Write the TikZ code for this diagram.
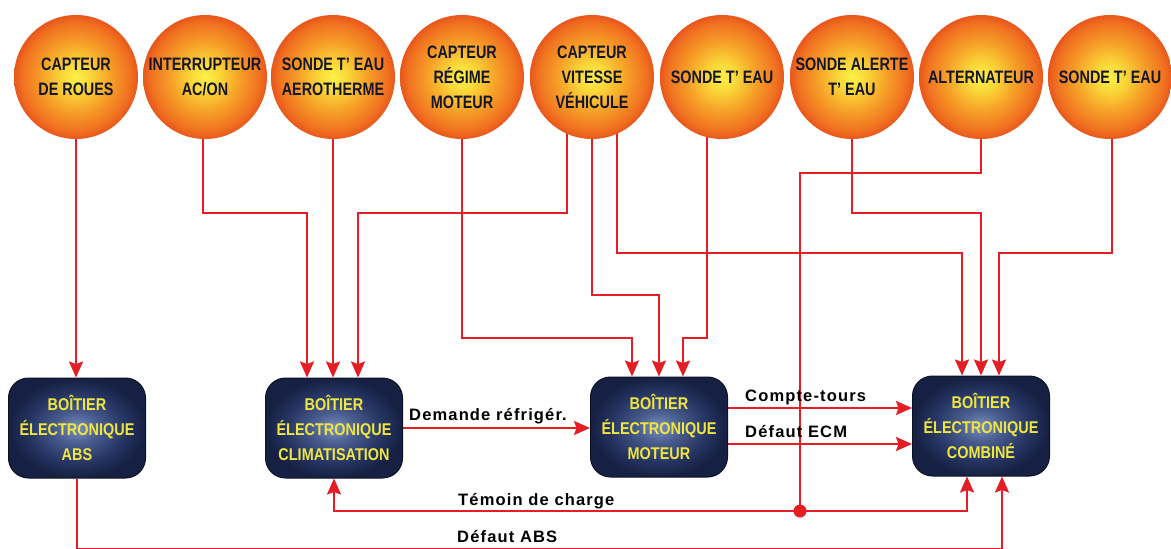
\documentclass[tikz,border=0pt]{standalone}
\usepackage{fontspec}
\setmainfont{Liberation Sans}
\newfontfamily\ballfont[FakeStretch=0.8]{Liberation Sans}
\newfontfamily\boxfont[FakeStretch=0.85]{Liberation Sans}
\newfontfamily\labfont[LetterSpace=7]{Liberation Sans}
\usetikzlibrary{arrows.meta,backgrounds,calc}

\definecolor{ballA}{RGB}{252,242,72}
\definecolor{ballB}{RGB}{250,214,56}
\definecolor{ballC}{RGB}{246,160,40}
\definecolor{ballD}{RGB}{240,112,32}
\definecolor{ballE}{RGB}{232,86,28}
\definecolor{boxA}{RGB}{122,142,192}
\definecolor{boxB}{RGB}{72,92,142}
\definecolor{boxC}{RGB}{36,51,96}
\definecolor{boxD}{RGB}{22,32,66}
\definecolor{boxedge}{RGB}{12,18,38}
\definecolor{boxtext}{RGB}{240,230,64}
\definecolor{balltext}{RGB}{22,22,42}
\definecolor{wire}{RGB}{228,30,36}

\pgfdeclareradialshading{ball}{\pgfpoint{0bp}{0bp}}{%
  color(0bp)=(ballA); color(6bp)=(ballB); color(14bp)=(ballC);
  color(22bp)=(ballD); color(25bp)=(ballE); color(50bp)=(ballE)}
\pgfdeclareradialshading{ecu}{\pgfpoint{0bp}{0bp}}{%
  color(0bp)=(boxA); color(8bp)=(boxB); color(18bp)=(boxC);
  color(25bp)=(boxD); color(50bp)=(boxD)}

\tikzset{
  sensor/.style={circle, minimum size=124pt, inner sep=0pt, shade, shading=ball,
    align=center, text=balltext,
    font=\ballfont\bfseries\fontsize{18pt}{25pt}\selectfont},
  ecubox/.style={rectangle, rounded corners=20pt, minimum width=137pt,
    minimum height=100pt, inner sep=0pt, shade, shading=ecu,
    draw=boxedge, line width=1pt, align=center, text=boxtext,
    font=\boxfont\bfseries\fontsize{17pt}{25pt}\selectfont},
  wirelabel/.style={anchor=base west, inner sep=0pt,
    font=\labfont\bfseries\fontsize{16.5pt}{20pt}\selectfont},
  sig/.style={draw=wire, line width=2pt},
  arr/.style={sig, -{Stealth[length=16pt,width=14pt,inset=2.5pt]}},
  junction/.style={circle, fill=wire, minimum size=13pt, inner sep=0pt}
}

\begin{document}
\begin{tikzpicture}[x=1pt,y=-1pt]
\useasboundingbox (0,0) rectangle (1171,549);

% sensors
\node[sensor] (c1) at (76,77)   {CAPTEUR\\DE ROUES};
\node[sensor] (c2) at (205,77)  {INTERRUPTEUR\\AC/ON};
\node[sensor] (c3) at (333,77)  {SONDE T’ EAU\\AEROTHERME};
\node[sensor] (c4) at (462,77)  {CAPTEUR\\RÉGIME\\MOTEUR};
\node[sensor] (c5) at (592,77)  {CAPTEUR\\VITESSE\\VÉHICULE};
\node[sensor] (c6) at (722,77)  {SONDE T’ EAU};
\node[sensor] (c7) at (852,77)  {SONDE ALERTE\\T’ EAU};
\node[sensor] (c8) at (981,77)  {ALTERNATEUR};
\node[sensor] (c9) at (1110,77) {SONDE T’ EAU};

% control units
\node[ecubox] (abs)  at (77,428)  {BOÎTIER\\ÉLECTRONIQUE\\ABS};
\node[ecubox] (clim) at (334,428) {BOÎTIER\\ÉLECTRONIQUE\\CLIMATISATION};
\node[ecubox] (mot)  at (659,427) {BOÎTIER\\ÉLECTRONIQUE\\MOTEUR};
\node[ecubox] (comb) at (981,426) {BOÎTIER\\ÉLECTRONIQUE\\COMBINÉ};

% alternator junction
\node[junction] (dot) at (800,511) {};

% wire labels
\node[wirelabel] (lreq) at (409,420) {Demande réfrigér.};
\node[wirelabel] (lct)  at (745,401) {Compte-tours};
\node[wirelabel] (lecm) at (745,437) {Défaut ECM};
\node[wirelabel] (ltc)  at (458,505) {Témoin de charge};
\node[wirelabel] (labs) at (457,542) {Défaut ABS};

\begin{pgfonlayer}{background}
\fill[white] (0,0) rectangle (1171,549);

% sensor inputs
\draw[arr] (c1.center) -- (c1.center |- abs.north);
\draw[arr] ([xshift=-2pt]c2.center) -- ++(0,136) -| ([xshift=-27pt]clim.north);
\draw[arr] (c3.center) -- (c3.center |- clim.north);
\draw[arr] ([xshift=-25pt]c5.center) -- ++(0,136) -| ([xshift=24pt]clim.north);
\draw[arr] (c4.center) -- ++(0,261) -| ([xshift=-27pt]mot.north);
\draw[arr] (c5.center) -- ++(0,218) -| (mot.north);
\draw[arr] ([xshift=-15pt]c6.center) -- ++(0,261) -| ([xshift=24pt]mot.north);
\draw[arr] ([xshift=25pt]c5.center) -- ++(0,176) -| ([xshift=-19pt]comb.north);
\draw[arr] (c7.center) -- ++(0,136) -| (comb.north);
\draw[arr] ([xshift=2pt]c9.center) -- ++(0,176) -| ([xshift=18pt]comb.north);
\draw[sig] (c8.center) -- ++(0,96) -| (dot.center);

% links between units
\draw[arr] (clim.east) -- (clim.east -| mot.west);
\draw[arr] ([yshift=19pt]mot.east) -- ([yshift=19pt]mot.east -| comb.west);
\draw[arr] ([yshift=-17pt]mot.east) -- ([yshift=-17pt]mot.east -| comb.west);
\draw[arr] (dot.center) -| ([xshift=-14pt]comb.south);
\draw[arr] (dot.center) -| (clim.south);
\draw[arr] (abs.south) -- ++(0,70) -| ([xshift=21pt]comb.south);
\end{pgfonlayer}
\end{tikzpicture}
\end{document}
